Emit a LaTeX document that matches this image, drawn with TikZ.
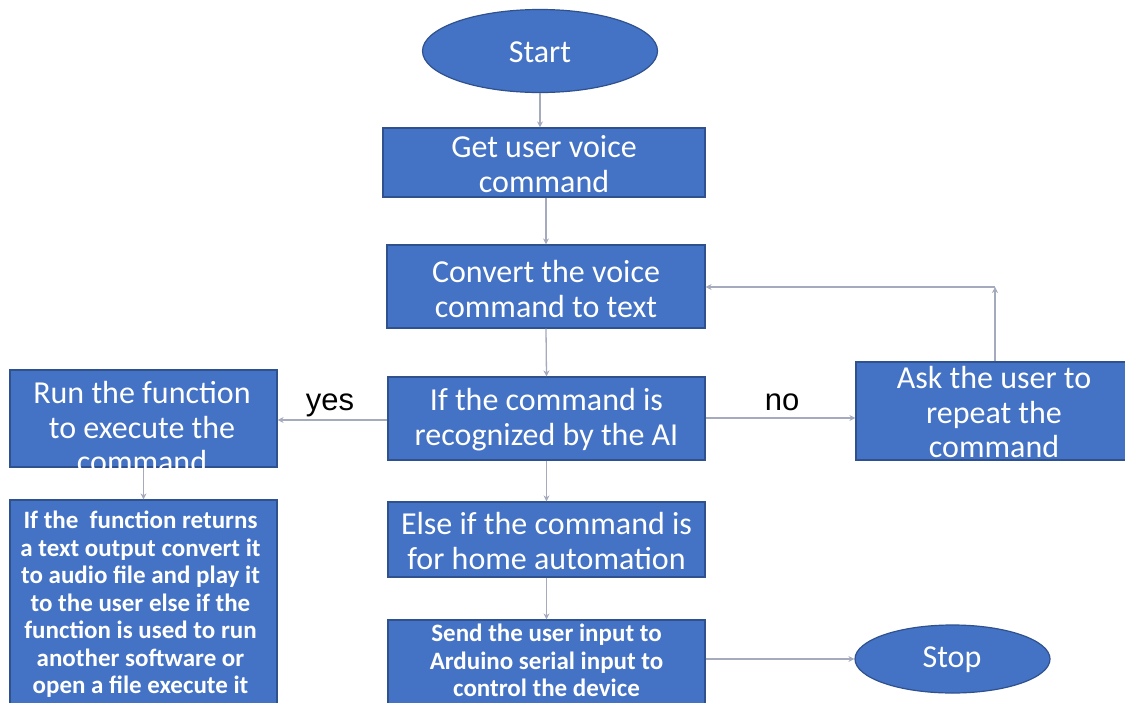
\documentclass[tikz,border=0pt]{standalone}
\usepackage{fontspec}
\setmainfont{Carlito}
\newfontfamily\arialfont{Liberation Sans}
\usetikzlibrary{arrows.meta,shapes.geometric}
\definecolor{boxblue}{RGB}{68,114,196}
\definecolor{boxedge}{RGB}{47,82,143}
\definecolor{linkcol}{RGB}{165,170,188}
\begin{document}
\begin{tikzpicture}[x=1pt,y=-1pt,
  stepbox/.style={rectangle,draw=boxedge,fill=boxblue,line width=1.2pt,inner sep=0pt},
  termbox/.style={ellipse,draw=boxedge,fill=boxblue,line width=1.2pt,inner sep=0pt},
  bigtext/.style={text=white,align=center,inner sep=0pt,font=\fontsize{32}{35}\selectfont},
  smalltext/.style={text=white,align=center,inner sep=0pt,font=\fontsize{25}{27.5}\selectfont\bfseries},
  answer/.style={text=black,inner sep=0pt,anchor=base,font=\fontsize{31}{35}\selectfont\arialfont},
  link/.style={draw=linkcol,line width=1.3pt,-{Stealth[length=6pt,width=6pt]}}]
\useasboundingbox (0,0) rectangle (1125,702);
\clip (0,0) rectangle (1125,702);
\fill[white] (0,0) rectangle (1125,702);
% shapes
\node[termbox,minimum width=235,minimum height=83] (start) at (540,51) {};
\node[stepbox,minimum width=322,minimum height=69] (get) at (544,162.5) {};
\node[stepbox,minimum width=318,minimum height=83] (conv) at (546,286.5) {};
\node[stepbox,minimum width=317,minimum height=83] (ifb) at (546.5,418.5) {};
\node[stepbox,minimum width=272,minimum height=98] (ask) at (992,411) {};
\node[stepbox,minimum width=267,minimum height=97] (run) at (143.5,418.5) {};
\node[stepbox,minimum width=267,minimum height=205] (out) at (143.5,602.5) {};
\node[stepbox,minimum width=317,minimum height=75] (elseb) at (546.5,539.5) {};
\node[stepbox,minimum width=317,minimum height=85] (send) at (546.5,662.5) {};
\node[termbox,minimum width=195,minimum height=68] (stop) at (952.5,659) {};
% texts
\node[bigtext] (tstart) at (540,52) {Start};
\node[bigtext] (tget) at (544,164) {Get user voice\\command};
\node[bigtext] (tconv) at (546,289) {Convert the voice\\command to text};
\node[bigtext] (tif) at (546.5,420) {If the command is\\recognized by the AI};
\node[bigtext] (task) at (994,412) {Ask the user to\\repeat the\\command};
\node[bigtext] (trun) at (142,427) {Run the function\\to execute the\\command};
\node[bigtext] (telse) at (546.5,540.5) {Else if the command is\\for home automation};
\node[smalltext] (tout) at (140.5,604.5) {If the\ \ function returns\\a text output convert it\\to audio file and play it\\to the user else if the\\function is used to run\\another software or\\open a file execute it};
\node[smalltext] (tsend) at (546.5,660.5) {Send the user input to\\Arduino serial input to\\control the device};
\node[bigtext] (tstop) at (952,660) {Stop};
\node[answer] (yes) at (330,410) {yes};
\node[answer] (no) at (782,410) {no};
% connectors
\coordinate (corner) at (995,287);
\draw[link] (start.south) -- (start.south |- get.north);
\draw[link] (get.south -| conv.north) -- (conv.north);
\draw[link] (conv.south) -- (ifb.north);
\draw[link] (ifb.south) -- (elseb.north);
\draw[link] (elseb.south) -- (send.north);
\draw[link] (ifb.west |- 0,420) -- (run.east |- 0,420);
\draw[link] (ifb.east |- 0,418) -- (ask.west |- 0,418);
\draw[link] (ask.north -| corner) -- (corner);
\draw[link] (corner) -- (corner -| conv.east);
\draw[link] (run.south) -- (out.north);
\draw[link] (send.east |- stop.west) -- (stop.west);
\end{tikzpicture}
\end{document}
